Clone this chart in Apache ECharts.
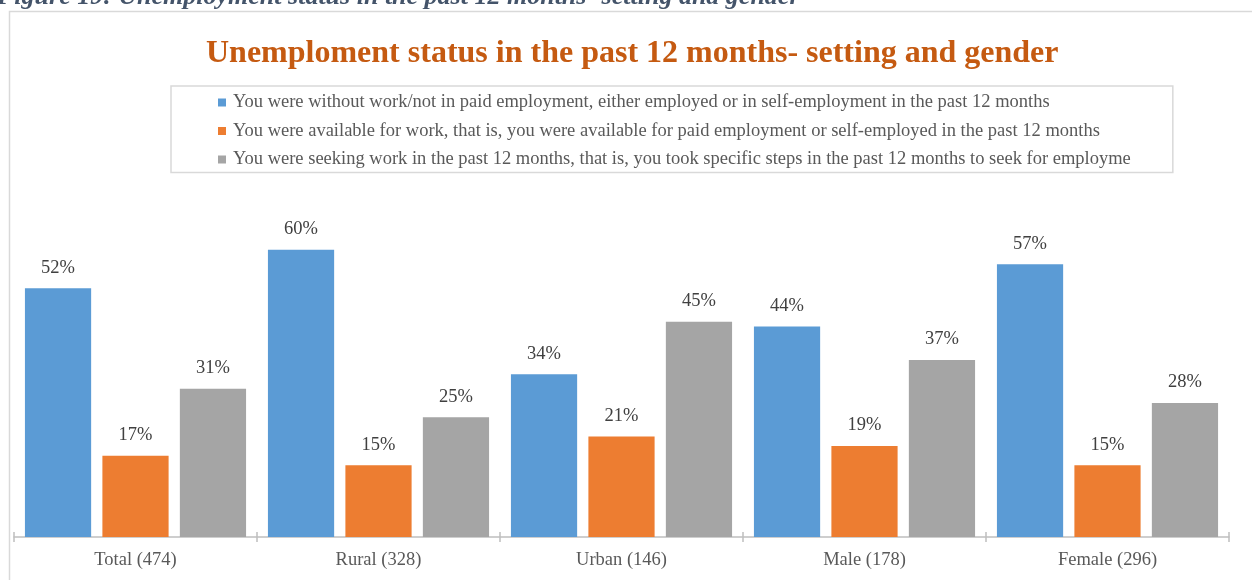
<!DOCTYPE html>
<html>
<head>
<meta charset="utf-8">
<script src="https://cdn.jsdelivr.net/npm/echarts@6/dist/echarts.min.js"></script>
<style>
  html, body { margin: 0; padding: 0; background: #ffffff; }
  #chart { width: 1252px; height: 580px; }
</style>
</head>
<body>
<div id="chart"></div>
<script>
// Groups along the horizontal axis
const categories = ['Total (474)', 'Rural (328)', 'Urban (146)', 'Male (178)', 'Female (296)'];

// Series names shown in the legend
const seriesNames = [
  'You were without work/not in paid employment, either employed or in self-employment in the past 12 months',
  'You were available for work, that is, you were available for paid employment or self-employed in the past 12 months',
  'You were seeking work in the past 12 months, that is, you took specific steps in the past 12 months to seek for employme'
];

// Percent values per group
const withoutWork = [52, 60, 34, 44, 57];
const availableForWork = [17, 15, 21, 19, 15];
const seekingWork = [31, 25, 45, 37, 28];

const seriesValues = [withoutWork, availableForWork, seekingWork];
const colors = ['#5B9BD5', '#ED7D31', '#A5A5A5'];

const serif = '"Liberation Serif", "Times New Roman", serif';

const chart = echarts.init(document.getElementById('chart'), null, { renderer: 'canvas' });

const option = {
  backgroundColor: '#ffffff',
  animation: false,
  graphic: [
    {
      type: 'rect',
      shape: { x: 9.5, y: 11.5, width: 1300, height: 600 },
      style: { fill: 'none', stroke: '#d9d9d9', lineWidth: 1.5 },
      silent: true
    },
    {
      type: 'text',
      left: -3,
      top: -16,
      style: {
        text: 'Figure 19: Unemployment status in the past 12 months- setting and gender',
        fill: '#44546A',
        font: 'italic bold 26px ' + serif
      },
      silent: true
    }
  ],
  title: {
    text: 'Unemploment status in the past 12 months- setting and gender',
    left: 206,
    top: 38,
    padding: 0,
    textStyle: {
      fontFamily: serif,
      fontWeight: 'bold',
      fontSize: 32,
      color: '#C55A11'
    }
  },
  legend: {
    orient: 'vertical',
    left: 171,
    top: 86,
    data: seriesNames,
    icon: 'rect',
    itemWidth: 8,
    itemHeight: 8,
    itemGap: 8.5,
    padding: [6.5, 42, 3, 47],
    borderColor: '#d9d9d9',
    borderWidth: 1.5,
    textStyle: {
      fontFamily: serif,
      fontSize: 18.5,
      color: '#595959',
      lineHeight: 20,
      padding: [0, 0, 0, 2]
    }
  },
  grid: {
    left: 14,
    right: 23,
    top: 202,
    bottom: 43,
    containLabel: false
  },
  xAxis: [
    {
      type: 'category',
      data: categories,
      axisLine: { lineStyle: { color: '#bfbfbf', width: 1.5 } },
      axisTick: { show: true, length: 5, lineStyle: { color: '#bfbfbf', width: 1.5 } },
      axisLabel: {
        fontFamily: serif,
        fontSize: 18.5,
        color: '#595959',
        margin: 14
      }
    },
    {
      type: 'category',
      data: categories,
      position: 'bottom',
      axisLine: { show: false },
      axisTick: { show: true, inside: true, length: 5, lineStyle: { color: '#bfbfbf', width: 1.5 } },
      axisLabel: { show: false }
    }
  ],
  yAxis: {
    type: 'value',
    min: 0,
    max: 70,
    show: false,
    splitLine: { show: false }
  },
  series: seriesNames.map((name, i) => ({
    name: name,
    type: 'bar',
    xAxisIndex: 0,
    data: seriesValues[i],
    barGap: '17%',
    barCategoryGap: '9%',
    itemStyle: { color: colors[i] },
    label: {
      show: true,
      position: 'top',
      distance: 11,
      formatter: '{c}%',
      fontFamily: serif,
      fontSize: 18.5,
      color: '#404040'
    }
  }))
};

chart.setOption(option);
</script>
</body>
</html>
